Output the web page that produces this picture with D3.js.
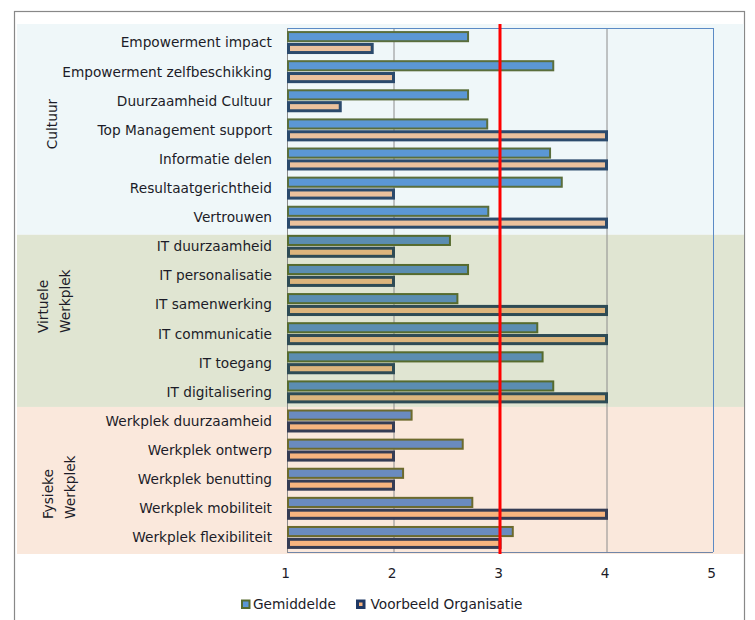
<!DOCTYPE html>
<html><head><meta charset="utf-8">
<script src="https://cdn.jsdelivr.net/npm/d3@7"></script>
<style>
html,body{margin:0;padding:0;background:#fff;}
svg{display:block;font-family:"DejaVu Sans",Verdana,sans-serif;}
</style></head>
<body>
<svg id="chart" width="755" height="620"></svg>
<script>
const categories = [
  "Empowerment impact","Empowerment zelfbeschikking","Duurzaamheid Cultuur","Top Management support",
  "Informatie delen","Resultaatgerichtheid","Vertrouwen",
  "IT duurzaamheid","IT personalisatie","IT samenwerking","IT communicatie","IT toegang","IT digitalisering",
  "Werkplek duurzaamheid","Werkplek ontwerp","Werkplek benutting","Werkplek mobiliteit","Werkplek flexibiliteit"
];
const groups = ["Cultuur","Virtuele Werkplek","Fysieke Werkplek"];
const groupSizes = [7,6,5];
const groupLabelLines = [["Cultuur"],["Virtuele","Werkplek"],["Fysieke","Werkplek"]];
const seriesNames = ["Gemiddelde","Voorbeeld Organisatie"];
const gemiddelde = [2.70,3.50,2.70,2.88,3.47,3.58,2.89, 2.53,2.70,2.60,3.35,3.40,3.50, 2.17,2.65,2.09,2.74,3.12];
const voorbeeld  = [1.80,2.00,1.50,4.00,4.00,2.00,4.00, 2.00,2.00,4.00,4.00,2.00,4.00, 2.00,2.00,2.00,4.00,3.00];
const xTicks = [1,2,3,4,5];
const gridValues = [2,4];
const referenceValue = 3;

// styles per group (bars look tinted by the band colours)
const bandFill = ["#EFF7F9","#E0E5D2","#FAE8DC"];
const gemFill = ["#5B97D5","#5B8DB1","#6A8BBF"];
const gemStroke = ["#5A6E3C","#566B2E","#6C6A2D"];
const voFill = ["#EBC19D","#DCB57D","#F7B47F"];
const voStroke = ["#2B4A6C","#2E4B55","#353C54"];

const svg = d3.select("#chart");
const pLeft = 287, pRight = 713, pTop = 28, pBottom = 552;

// frame
svg.append("rect").attr("x",14.5).attr("y",11.5).attr("width",730).attr("height",620)
  .attr("fill","#fff").attr("stroke","#888").attr("stroke-width",1.2);

const x = d3.scaleLinear().domain([1,5]).range([pLeft,pRight]);
const y = d3.scaleBand().domain(categories).range([pTop,pBottom]);
const ySub = d3.scaleBand().domain(seriesNames).range([0,y.bandwidth()]).paddingInner(0.06).paddingOuter(0.26);

// group index per category
const catGroup = [];
groupSizes.forEach((n,g)=>{ for(let i=0;i<n;i++) catGroup.push(g); });
const groupStart = [0]; groupSizes.forEach((n,g)=>groupStart.push(groupStart[g]+n));

// bands
const bandBounds = groups.map((g,i)=>{
  const first = categories[groupStart[i]];
  const t = i===0 ? y(first)-4 : y(first)+ (i===1?3:0.5);
  const lastIdx = groupStart[i+1];
  const b = lastIdx>=categories.length ? pBottom+2 : y(categories[lastIdx]) + (i===0?3:0.5);
  return [t,b];
});
svg.selectAll("rect.band").data(groups).join("rect").attr("class","band")
  .attr("x",17).attr("width",727)
  .attr("y",(d,i)=>bandBounds[i][0]).attr("height",(d,i)=>bandBounds[i][1]-bandBounds[i][0])
  .attr("fill",(d,i)=>bandFill[i]);

// gridlines
svg.selectAll("line.grid").data(gridValues).join("line").attr("class","grid")
  .attr("x1",d=>x(d)+0.5).attr("x2",d=>x(d)+0.5).attr("y1",pTop).attr("y2",pBottom)
  .attr("stroke","#8C8C8C").attr("stroke-width",1);

// plot border
svg.append("line").attr("x1",pLeft).attr("x2",pRight).attr("y1",pTop+0.5).attr("y2",pTop+0.5).attr("stroke","#5B8AC5");
svg.append("line").attr("x1",pRight+0.5).attr("x2",pRight+0.5).attr("y1",pTop).attr("y2",pBottom).attr("stroke","#5B8AC5");
svg.append("line").attr("x1",pLeft).attr("x2",pRight).attr("y1",pBottom+0.5).attr("y2",pBottom+0.5).attr("stroke","#7086A8");
svg.append("line").attr("x1",pLeft+0.5).attr("x2",pLeft+0.5).attr("y1",pTop).attr("y2",pBottom+1).attr("stroke","#8A8A8A");

// bars
const gemSW = 2, voSW = 3;
svg.selectAll("rect.gem").data(gemiddelde).join("rect").attr("class","gem")
  .attr("x",x(1)+gemSW/2)
  .attr("y",(d,i)=>y(categories[i])+ySub(seriesNames[0])+gemSW/2)
  .attr("width",d=>x(d)-x(1)-gemSW/2)
  .attr("height",ySub.bandwidth()-gemSW)
  .attr("fill",(d,i)=>gemFill[catGroup[i]]).attr("stroke",(d,i)=>gemStroke[catGroup[i]]).attr("stroke-width",gemSW);
svg.selectAll("rect.vo").data(voorbeeld).join("rect").attr("class","vo")
  .attr("x",x(1)+voSW/2)
  .attr("y",(d,i)=>y(categories[i])+ySub(seriesNames[1])+voSW/2)
  .attr("width",d=>x(d)-x(1)-voSW/2)
  .attr("height",ySub.bandwidth()-voSW)
  .attr("fill",(d,i)=>voFill[catGroup[i]]).attr("stroke",(d,i)=>voStroke[catGroup[i]]).attr("stroke-width",voSW);

// reference line
svg.append("line").attr("x1",x(referenceValue)).attr("x2",x(referenceValue))
  .attr("y1",pTop-4).attr("y2",pBottom+2).attr("stroke","#FF0000").attr("stroke-width",3);

// category labels
svg.selectAll("text.cat").data(categories).join("text").attr("class","cat")
  .attr("x",272).attr("y",d=>y(d)+y.bandwidth()/2).attr("dy","0.36em")
  .attr("text-anchor","end").attr("font-size",13.7).attr("fill","#1c1c28").text(d=>d);

// group labels (rotated)
const groupLabelPos = [[52,124,"middle"],[43,333,"start"],[48,519,"start"]];
groupLabelLines.forEach((lines,gi)=>{
  const [gx,gy,anchor] = groupLabelPos[gi];
  const t = svg.append("text").attr("transform",`translate(${gx},${gy}) rotate(-90)`)
    .attr("text-anchor",anchor).attr("font-size",13.7).attr("fill","#1c1c28");
  lines.forEach((l,li)=>t.append("tspan").attr("x",0).attr("y",li*22.5).attr("dy","0.36em").text(l));
});

// x axis labels
const axis = d3.axisBottom(x).tickValues(xTicks).tickSize(0).tickFormat(d3.format("d"));
const ax = svg.append("g").attr("transform",`translate(-2,${pBottom+13})`).call(axis);
ax.select(".domain").remove();
ax.selectAll("text").attr("font-size",13.7).attr("font-family","DejaVu Sans").attr("fill","#1c1c28");

// legend
const legend = svg.append("g");
const legX = [241,356];
seriesNames.forEach((s,i)=>{
  const sw = i===0?gemSW:voSW;
  legend.append("rect").attr("x",legX[i]+sw/2).attr("y",599.5+sw/2).attr("width",9.5-sw).attr("height",9.5-sw)
    .attr("fill",i===0?gemFill[0]:voFill[2]).attr("stroke",i===0?gemStroke[1]:"#1F3864").attr("stroke-width",sw);
  legend.append("text").attr("x",legX[i]+(i===0?12:14.5)).attr("y",604.5).attr("dy","0.36em")
    .attr("font-size",13.7).attr("fill","#1c1c28").text(s);
});
</script>
</body></html>
